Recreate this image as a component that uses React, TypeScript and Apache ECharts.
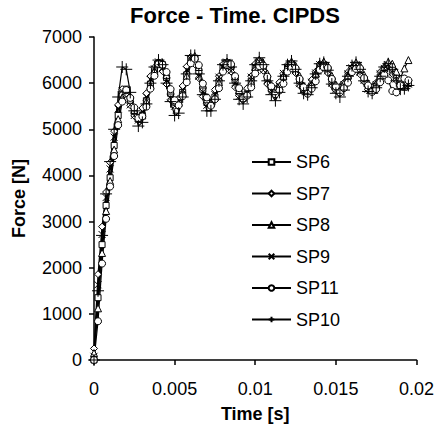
import React, { useEffect, useRef } from "react";
import * as echarts from "echarts";

const TIME = [
  0, 0.00025, 0.0005, 0.00075, 0.001, 0.00125, 0.0015, 0.00175, 0.002, 0.00225,
  0.0025, 0.00275, 0.003, 0.00325, 0.0035, 0.00375, 0.004, 0.00425, 0.0045, 0.00475,
  0.005, 0.00525, 0.0055, 0.00575, 0.006, 0.00625, 0.0065, 0.00675, 0.007, 0.00725,
  0.0075, 0.00775, 0.008, 0.00825, 0.0085, 0.00875, 0.009, 0.00925, 0.0095, 0.00975,
  0.01, 0.01025, 0.0105, 0.01075, 0.011, 0.01125, 0.0115, 0.01175, 0.012, 0.01225,
  0.0125, 0.01275, 0.013, 0.01325, 0.0135, 0.01375, 0.014, 0.01425, 0.0145, 0.01475,
  0.015, 0.01525, 0.0155, 0.01575, 0.016, 0.01625, 0.0165, 0.01675, 0.017, 0.01725,
  0.0175, 0.01775, 0.018, 0.01825, 0.0185, 0.01875, 0.019, 0.01925, 0.0195,
];

const SP6 = [
  0, 1350, 2500, 3350, 3950, 4650, 5300, 5750, 5870, 5650,
  5380, 5230, 5300, 5620, 5980, 6280, 6430, 6400, 6120, 5780,
  5540, 5560, 5800, 6180, 6520, 6540, 6260, 5870, 5580, 5540,
  5700, 6030, 6330, 6440, 6360, 6070, 5780, 5670, 5760, 6040,
  6330, 6460, 6350, 6110, 5870, 5810, 5900, 6130, 6330, 6410,
  6300, 6060, 5860, 5830, 5940, 6180, 6360, 6400, 6300, 6060,
  5890, 5860, 5950, 6140, 6310, 6380, 6290, 6080, 5910, 5860,
  5940, 6130, 6300, 6380, 6300, 6110, 5960, 5910, 5990,
];

const SP7 = [
  250, 1860, 2890, 3640, 4280, 4960, 5530, 5870, 5780, 5520,
  5290, 5210, 5460, 5780, 6150, 6340, 6460, 6260, 5980, 5640,
  5510, 5670, 5940, 6360, 6570, 6410, 6110, 5710, 5560, 5570,
  5860, 6150, 6410, 6390, 6250, 5910, 5730, 5670, 5890, 6150,
  6420, 6410, 6270, 5980, 5850, 5820, 6020, 6210, 6400, 6350,
  6220, 5950, 5860, 5850, 6070, 6250, 6420, 6350, 6220, 5960,
  5850, 5910, 6010, 6240, 6340, 6380, 6190, 6030, 5860, 5910,
  6010, 6240, 6330, 6380, 6200, 6060, 5910, 5960, 6050,
];

const SP8 = [
  150, 1120, 2320, 3230, 3880, 4560, 5220, 5690, 5860, 5640,
  5420, 5250, 5300, 5600, 5950, 6270, 6440, 6440, 6180, 5840,
  5600, 5580, 5790, 6160, 6520, 6590, 6350, 5970, 5650, 5570,
  5700, 6020, 6330, 6470, 6410, 6150, 5850, 5710, 5770, 6030,
  6350, 6510, 6440, 6210, 5960, 5870, 5940, 6160, 6370, 6470,
  6380, 6160, 5950, 5890, 5980, 6210, 6400, 6470, 6380, 6160,
  5970, 5920, 5990, 6170, 6350, 6450, 6380, 6180, 6000, 5920,
  5990, 6170, 6350, 6460, 6420, 6250, 6100, 6320, 6500,
];

const SP9 = [
  80, 1630, 2720, 3520, 4140, 4830, 5440, 5830, 5810, 5530,
  5300, 5200, 5390, 5700, 6080, 6310, 6460, 6320, 6050, 5680,
  5500, 5620, 5860, 6290, 6530, 6510, 6150, 5810, 5520, 5580,
  5750, 6130, 6350, 6450, 6270, 6010, 5710, 5690, 5790, 6130,
  6360, 6470, 6280, 6070, 5820, 5840, 5930, 6210, 6340, 6420,
  6270, 5990, 5860, 5830, 6020, 6220, 6400, 6380, 6270, 6000,
  5860, 5890, 5970, 6200, 6330, 6400, 6240, 6060, 5870, 5890,
  5970, 6200, 6320, 6400, 6240, 6090, 5920, 5940, 5980,
];

const SP11 = [
  0, 840, 2090, 3060, 3760, 4420, 5090, 5600, 5850, 5680,
  5470, 5240, 5280, 5490, 5880, 6160, 6410, 6400, 6240, 5870,
  5630, 5520, 5720, 6020, 6430, 6530, 6390, 5990, 5690, 5510,
  5650, 5890, 6250, 6390, 6410, 6150, 5890, 5670, 5730, 5910,
  6210, 6370, 6380, 6140, 5930, 5760, 5840, 5990, 6250, 6330,
  6320, 6090, 5910, 5770, 5880, 6040, 6290, 6340, 6330, 6090,
  5930, 5800, 5890, 6010, 6240, 6310, 6320, 6110, 5950, 5810,
  5870, 6020, 6180, 6060, 5830, 5800, 5950, 6100, 6060,
];

const SP10 = [
  0, 1500, 2700, 3600, 4300, 5000, 5700, 6350, 6300, 5800,
  5400, 5070, 5150, 5550, 6000, 6350, 6500, 6400, 6000, 5600,
  5300, 5350, 5700, 6200, 6600, 6600, 6200, 5750, 5400, 5400,
  5650, 6050, 6400, 6500, 6350, 6000, 5650, 5550, 5700, 6050,
  6400, 6550, 6400, 6050, 5750, 5620, 5800, 6150, 6400, 6480,
  6300, 6000, 5780, 5750, 5900, 6200, 6420, 6450, 6280, 5980,
  5780, 5700, 5850, 6150, 6380, 6450, 6300, 6050, 5820, 5780,
  5900, 6150, 6350, 6420, 6300, 6050, 5870, 5880, 5950,
];

const SERIES_NAMES = ["SP6", "SP7", "SP8", "SP9", "SP11", "SP10"];
const SERIES_VALUES = [SP6, SP7, SP8, SP9, SP11, SP10];
const X_TICKS = [0, 0.005, 0.01, 0.015, 0.02];
const Y_TICKS = [0, 1000, 2000, 3000, 4000, 5000, 6000, 7000];

const PLUS = "path://M5,0L5,10M0,5L10,5";
const CROSS = "path://M0,0L10,10M10,0L0,10";
const SYMBOLS = ["rect", "diamond", "triangle", CROSS, "circle", PLUS];
const SYMBOL_SIZES = [6, 7, 7, 7, 7, 12];

const FONT = "'Liberation Sans', Arial, sans-serif";

export default function App() {
  const ref = useRef<HTMLDivElement>(null);
  useEffect(() => {
    if (!ref.current) return;
    const chart = echarts.init(ref.current, null, { renderer: "svg" });
    const series = SERIES_NAMES.map((name, k) => ({
      name,
      type: "line",
      data: SERIES_VALUES[k].map((v, i) => [TIME[i], v]),
      symbol: SYMBOLS[k],
      symbolSize: SYMBOL_SIZES[k],
      showSymbol: true,
      showAllSymbol: true,
      lineStyle: { color: "#000", width: 1.2 },
      itemStyle: { color: "#fff", borderColor: "#000", borderWidth: 1 },
      emphasis: { disabled: true },
    }));
    chart.setOption({
      animation: false,
      textStyle: { fontFamily: FONT },
      title: {
        text: "Force - Time. CIPDS",
        left: 130,
        top: 4,
        padding: 0,
        textStyle: { fontFamily: FONT, fontSize: 22, fontWeight: "bold", color: "#000" },
      },
      grid: { left: 94, top: 37, width: 323, height: 326, containLabel: false },
      legend: {
        left: 251,
        top: 153,
        orient: "vertical",
        padding: 0,
        itemWidth: 39,
        itemHeight: 7,
        itemGap: 13.5,
        data: SERIES_NAMES,
        textStyle: { fontFamily: FONT, fontSize: 18, color: "#000", lineHeight: 18 },
      },
      xAxis: {
        type: "value",
        min: X_TICKS[0],
        max: X_TICKS[X_TICKS.length - 1],
        interval: 0.005,
        name: "Time [s]",
        nameLocation: "middle",
        nameGap: 45,
        nameTextStyle: { fontFamily: FONT, fontSize: 18, fontWeight: "bold", color: "#000" },
        axisLine: { lineStyle: { color: "#000", width: 1.5 } },
        axisTick: { show: true, inside: false, length: 5, lineStyle: { color: "#000", width: 1.5 } },
        axisLabel: {
          fontFamily: FONT,
          fontSize: 18,
          color: "#000",
          margin: 20,
          formatter: (v: number) => {
            const t = X_TICKS.find((x) => Math.abs(x - v) < 1e-9);
            return t === undefined ? "" : String(t);
          },
        },
        splitLine: { show: false },
      },
      yAxis: {
        type: "value",
        min: Y_TICKS[0],
        max: Y_TICKS[Y_TICKS.length - 1],
        interval: 1000,
        name: "Force [N]",
        nameLocation: "middle",
        nameGap: 66,
        nameTextStyle: { fontFamily: FONT, fontSize: 18, fontWeight: "bold", color: "#000" },
        axisLine: { show: true, lineStyle: { color: "#000", width: 1.5 } },
        axisTick: { show: true, inside: false, length: 5, lineStyle: { color: "#000", width: 1.5 } },
        axisLabel: {
          fontFamily: FONT,
          fontSize: 18,
          color: "#000",
          margin: 12,
          formatter: (v: number) => String(v),
        },
        splitLine: { show: false },
      },
      series,
    });
    return () => chart.dispose();
  }, []);
  return (
    <div
      ref={ref}
      style={{ position: "fixed", left: 0, top: 0, width: 437, height: 428, background: "#fff" }}
    />
  );
}
